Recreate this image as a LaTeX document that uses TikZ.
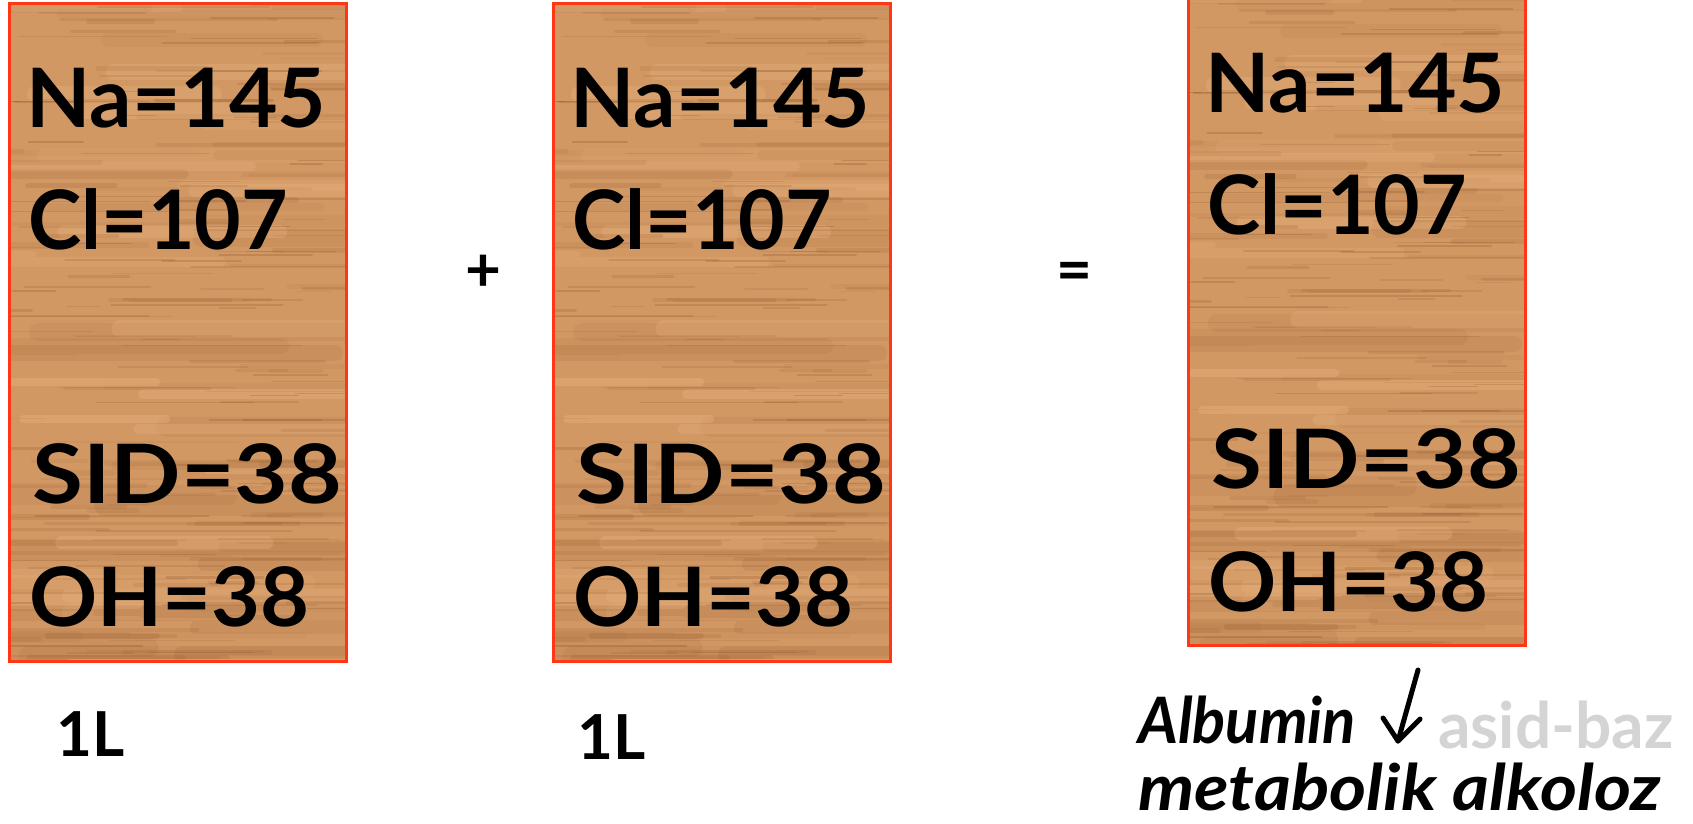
\documentclass[tikz,border=0pt]{standalone}
\usepackage{fontspec}
\setmainfont{Lato}

\definecolor{woodbase}{RGB}{210,152,100}
\definecolor{wooddark}{RGB}{140,84,40}
\definecolor{woodlight}{RGB}{232,180,128}
\definecolor{boxframe}{RGB}{255,55,20}
\definecolor{ghost}{RGB}{212,212,212}

\tikzset{
  woodbox/.style={rectangle, inner sep=0pt, anchor=north west},
  frameline/.style={draw=boxframe, line width=3pt},
  val/.style={font=\fontsize{82}{90}\selectfont\bfseries, anchor=base west, inner sep=0pt},
  vol/.style={font=\fontsize{62}{70}\selectfont\bfseries, anchor=base west, inner sep=0pt},
  opsign/.style={font=\fontsize{62}{64}\selectfont\bfseries, anchor=base, inner sep=0pt},
  note/.style={font=\fontsize{64}{70}\selectfont\bfseries\itshape, anchor=base west, inner sep=0pt},
  ghosttext/.style={font=\fontsize{64}{70}\selectfont\bfseries, anchor=base west, inner sep=0pt, text=ghost},
  pen/.style={line width=5pt, line cap=round, line join=round},
}

% wood-grain fill clipped to a box node
\newcommand\woodgrain[1]{%
  \begin{scope}
    \clip (#1.north west) rectangle (#1.south east);
    \fill[woodbase] (#1.north west) rectangle (#1.south east);
    \pgfmathsetseed{4711}
    % broad soft bands
    \foreach \k in {1,...,34}{
      \pgfmathsetmacro\gy{rnd*680}
      \pgfmathsetmacro\gx{rnd*340-120}
      \pgfmathsetmacro\gl{150+rnd*300}
      \pgfmathsetmacro\gw{6+rnd*16}
      \pgfmathsetmacro\go{0.05+rnd*0.10}
      \draw[draw=wooddark, line width=\gw pt, opacity=\go, line cap=round]
        ([shift={(\gx,\gy)}]#1.north west) -- ++(\gl,0);
    }
    \foreach \k in {1,...,26}{
      \pgfmathsetmacro\gy{rnd*680}
      \pgfmathsetmacro\gx{rnd*340-120}
      \pgfmathsetmacro\gl{120+rnd*260}
      \pgfmathsetmacro\gw{5+rnd*12}
      \pgfmathsetmacro\go{0.15+rnd*0.25}
      \draw[draw=woodlight, line width=\gw pt, opacity=\go, line cap=round]
        ([shift={(\gx,\gy)}]#1.north west) -- ++(\gl,0);
    }
    % medium streaks
    \foreach \k in {1,...,70}{
      \pgfmathsetmacro\gy{rnd*680}
      \pgfmathsetmacro\gx{rnd*360-60}
      \pgfmathsetmacro\gl{40+rnd*200}
      \pgfmathsetmacro\gw{2.5+rnd*3.5}
      \pgfmathsetmacro\go{0.06+rnd*0.12}
      \draw[draw=wooddark, line width=\gw pt, opacity=\go, line cap=round]
        ([shift={(\gx,\gy)}]#1.north west) -- ++(\gl,0);
    }
    % fine grain
    \foreach \k in {1,...,120}{
      \pgfmathsetmacro\gy{rnd*680}
      \pgfmathsetmacro\gx{rnd*360-60}
      \pgfmathsetmacro\gl{30+rnd*170}
      \pgfmathsetmacro\gw{0.8+rnd*1.8}
      \pgfmathsetmacro\go{0.08+rnd*0.2}
      \draw[draw=wooddark, line width=\gw pt, opacity=\go, line cap=round]
        ([shift={(\gx,\gy)}]#1.north west) -- ++(\gl,0);
    }
  \end{scope}
  \draw[frameline] (#1.north west) rectangle (#1.south east);
}

% the four values printed in every box (#3 = vertical tweak)
\newcommand\boxvalues[3]{%
  \node[val] (na#2)  at ([shift={(17,124+#3)}]#1.north west) {\scalebox{1.02}[1]{Na=145}};
  \node[val] (cl#2)  at ([shift={(19,246+#3)}]#1.north west) {\scalebox{0.98}[1]{Cl=107}};
  \node[val] (sid#2) at ([shift={(23,500+#3)}]#1.north west) {\scalebox{1.13}[1]{SID=38}};
  \node[val] (oh#2)  at ([shift={(20,623+#3)}]#1.north west) {\scalebox{1.03}[1]{OH=38}};
}

\begin{document}
\begin{tikzpicture}[x=1pt, y=-1pt]
  \useasboundingbox[fill=white] (0,0) rectangle (1693,823);

  \node[woodbox, minimum width=337pt, minimum height=658pt] (box1) at (9,3) {};
  \node[woodbox, minimum width=337pt, minimum height=658pt] (box2) at (553,3) {};
  \node[woodbox, minimum width=337pt, minimum height=651pt] (box3) at (1188,-6) {};

  \woodgrain{box1}
  \woodgrain{box2}
  \woodgrain{box3}

  \boxvalues{box1}{1}{0}
  \boxvalues{box2}{2}{0}
  \boxvalues{box3}{3}{-6}

  % operators between the boxes
  \node[opsign] (plus) at (483,291) {+};
  \node[opsign] (equals) at (1074,291) {=};

  % volumes
  \node[vol] (vol1) at (56,756) {1L};
  \node[vol] (vol2) at (577,759) {1L};

  % faded caption underneath
  \node[ghosttext] (gasid) at (1438,748) {asid-baz};

  % caption
  \node[note] (alb) at (1138,743) {\scalebox{0.96}[1]{Albumin}};
  \node[note] (met) at (1138,810) {\scalebox{1.11}[1]{metabolik alkoloz}};

  % hand-drawn down arrow
  \coordinate (atop) at (1418,670);
  \coordinate (atip) at (1398,741);
  \coordinate (awl) at (1383,718);
  \coordinate (awr) at (1420,719);
  \draw[pen] (atop) -- (atip);
  \draw[pen] (awl) -- (atip) -- (awr);
\end{tikzpicture}
\end{document}
